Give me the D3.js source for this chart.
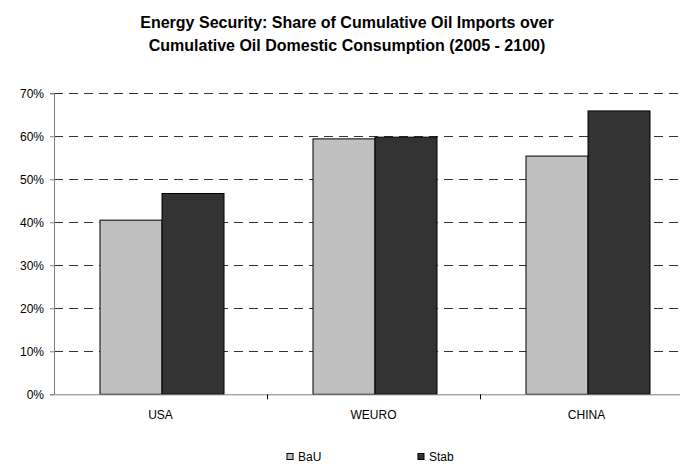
<!DOCTYPE html>
<html><head><meta charset="utf-8">
<script src="https://cdn.jsdelivr.net/npm/d3@7/dist/d3.min.js"></script>
<style>body{margin:0;background:#fff}svg{display:block;font-family:"Liberation Sans",Arial,sans-serif}</style>
</head><body>
<svg id="c" width="680" height="466"></svg>
<script>
const titleLines = ["Energy Security: Share of Cumulative Oil Imports over", "Cumulative Oil Domestic Consumption (2005 - 2100)"];
const categories = ["USA", "WEURO", "CHINA"];
const seriesNames = ["BaU", "Stab"];
const bauValues = [0.405, 0.594, 0.554];
const stabValues = [0.467, 0.598, 0.659];
const yTicks = [0, 0.1, 0.2, 0.3, 0.4, 0.5, 0.6, 0.7];
const colors = ["#c0c0c0", "#333333"];

(function () {
const svg = d3.select("#c");
const pLeft = 54, pTop = 93.3, pBottom = 394.3, band = 213;
const x = d3.scaleBand().domain(categories).range([pLeft, pLeft + band * categories.length]).paddingInner(0).paddingOuter(0);
const y = d3.scaleLinear().domain([0, 0.7]).range([pBottom, pTop]);
const xs = d3.scaleBand().domain(seriesNames).range([46, 46 + 124]);

// title
svg.append("g").selectAll("text").data(titleLines).join("text")
  .attr("x", 347).attr("y", (d, i) => 28 + i * 23)
  .attr("text-anchor", "middle").attr("font-weight", "bold").attr("font-size", 16).attr("fill", "#000")
  .text(d => d);

// gridlines
svg.append("g").selectAll("line").data(yTicks.filter(d => d > 0)).join("line")
  .attr("x1", pLeft).attr("x2", 680).attr("y1", d => Math.round(y(d)) + 0.5).attr("y2", d => Math.round(y(d)) + 0.5)
  .attr("stroke", "#333").attr("stroke-width", 1).attr("stroke-dasharray", "9,6");

// bars
const data = categories.map((c, i) => ({c, vals: [bauValues[i], stabValues[i]]}));
const g = svg.append("g");
data.forEach(d => {
  d.vals.forEach((v, j) => {
    g.append("rect")
      .attr("x", x(d.c) + xs(seriesNames[j]))
      .attr("y", y(v))
      .attr("width", xs.bandwidth())
      .attr("height", pBottom - y(v))
      .attr("fill", colors[j]).attr("stroke", "#000").attr("stroke-width", 1);
  });
});

// y axis
const yAxis = d3.axisLeft(y).tickValues(yTicks).tickFormat(d3.format(".0%")).tickSize(4).tickPadding(6);
const ya = svg.append("g").attr("transform", `translate(${pLeft},0)`).call(yAxis);
ya.select(".domain").attr("stroke", "#808080");
ya.selectAll(".tick line").attr("stroke", "#808080");
ya.selectAll(".tick text").attr("font-size", 12).attr("fill", "#000").attr("font-family", "Liberation Sans, Arial, sans-serif");

// x axis
const xAxis = d3.axisBottom(x).tickSize(0).tickPadding(16);
const xa = svg.append("g").attr("transform", `translate(0,${pBottom})`).call(xAxis);
xa.select(".domain").attr("stroke", "#808080");
xa.selectAll(".tick text").attr("font-size", 12).attr("fill", "#000").attr("font-family", "Liberation Sans, Arial, sans-serif");
xa.append("g").selectAll("line").data(categories.slice(1)).join("line")
  .attr("x1", d => x(d) + 0.5).attr("x2", d => x(d) + 0.5).attr("y1", 0).attr("y2", 5).attr("stroke", "#000");

// legend
const legendX = [287, 418];
const lg = svg.append("g");
seriesNames.forEach((s, i) => {
  lg.append("rect").attr("x", legendX[i]).attr("y", 453.5).attr("width", 6).attr("height", 6)
    .attr("fill", colors[i]).attr("stroke", "#000").attr("stroke-width", 1);
  lg.append("text").attr("x", legendX[i] + 11).attr("y", 461).attr("font-size", 12).attr("fill", "#000").text(s);
});
})();
</script>
</body></html>
